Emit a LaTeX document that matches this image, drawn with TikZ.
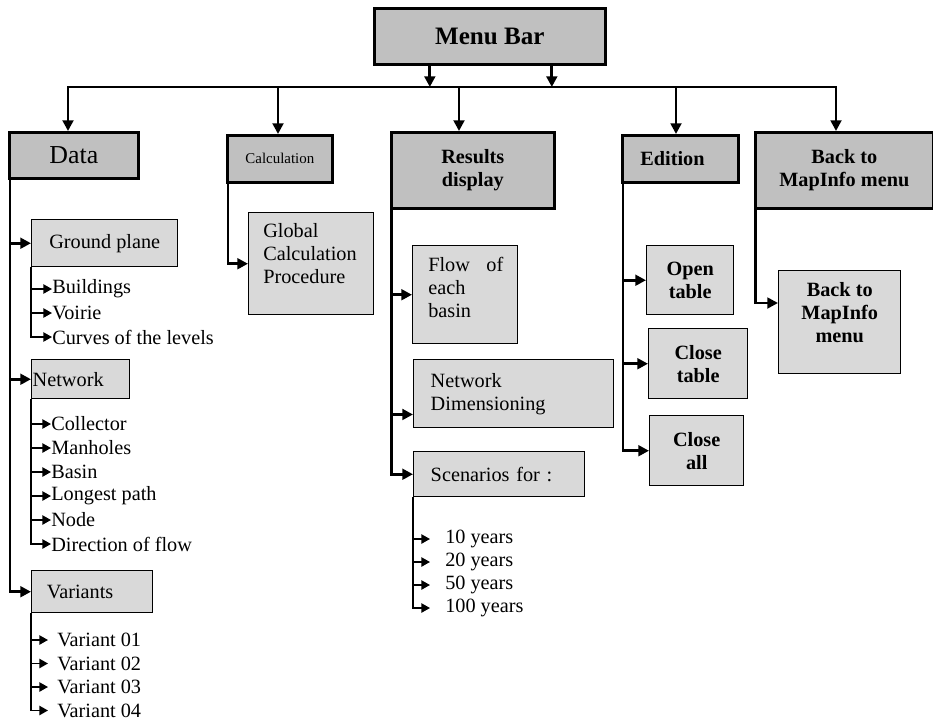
\documentclass[tikz,border=0pt]{standalone}
\usepackage{fontspec}
\setmainfont{Liberation Serif}
\usetikzlibrary{arrows.meta}
\definecolor{MenuGray}{HTML}{C0C0C0}
\definecolor{ItemGray}{HTML}{D9D9D9}
\newcommand\bodyfont{\fontsize{15.2pt}{17.3pt}\selectfont}

\begin{document}
\begin{tikzpicture}[x=.75pt,y=-.75pt,>={Triangle[width=8pt,length=8pt]},
  trunk/.style={line width=2.2pt},
  twig/.style={line width=1.1pt,>={Triangle[width=7pt,length=6.5pt]}},
  sz/.style 2 args={minimum width=#1*.75pt,minimum height=#2*.75pt},
  menubox/.style={draw,line width=2pt,fill=MenuGray,anchor=north west,inner sep=0pt},
  itembox/.style={draw,line width=1.1pt,fill=ItemGray,anchor=north west,inner sep=0pt},
  item/.style={anchor=west,inner sep=0pt,font=\bodyfont}]
  \useasboundingbox (0,0) rectangle (933,722);
  \node[menubox,sz={231}{56},font=\fontsize{18.8pt}{21pt}\selectfont\bfseries] (menu) at (373,7) {Menu Bar};
  \node[menubox,sz={129}{46},font=\fontsize{19.4pt}{22pt}\selectfont] (data) at (8,131) {Data};
  \node[menubox,sz={105}{47},font=\fontsize{11.2pt}{13pt}\selectfont] (calc) at (226,134) {Calculation};
  \node[menubox,sz={163}{76},font=\bodyfont\bfseries,align=center] (res) at (390,131) {Results\\display};
  \node[menubox,sz={116}{47},font=\bodyfont\bfseries,text width=60pt,align=left] (edit) at (621,134) {Edition};
  \node[menubox,sz={178}{76},font=\bodyfont\bfseries,align=center] (back) at (754,131) {Back to\\MapInfo menu};
  % menu bar to the five columns
  \coordinate (bus) at (0,87);
  \foreach \dx [count=\i] in {-60,62}{\coordinate (m\i) at ([shift={(\dx,0)}]menu.south);\draw[trunk,->] (m\i) -- (m\i |- bus);}
  \foreach \x/\n in {68/data,278/calc,459/res,676/edit,836/back}{\coordinate (d\n) at (\x,87);\draw[trunk,->] (d\n) -- (d\n |- \n.north);}
  \draw[trunk,line cap=rect] (ddata) -- (dback);
  % Data
  \node[itembox,sz={146}{47},font=\bodyfont] (gp) at (31,219) {Ground plane};
  \node[itembox,sz={98}{39},font=\bodyfont,text width=72pt,align=left] (net) at (31,359) {Network};
  \node[itembox,sz={121}{42},font=\bodyfont,text width=68pt,align=left] (var) at (31,570) {Variants};
  \coordinate (dl) at ([xshift=1.5pt]data.south west);
  \draw[trunk,->] (dl) |- (var.west);
  \foreach \n in {gp,net} \draw[trunk,->] (dl |- \n.west) -- (\n.west);
  \foreach \t [count=\i] in {Buildings,Voirie,Curves of the levels} \node[item] (gp\i) at (52,{289+24*(\i-1)}) {\t};
  \draw[twig,->] (gp.south west) |- (gp3.west);
  \foreach \i in {1,2} \draw[twig,->] (gp.south west |- gp\i.west) -- (gp\i.west);
  \foreach \t [count=\i] in {Collector,Manholes,Basin,Longest path,Node,Direction of flow} \node[item] (net\i) at (51,{424+24*(\i-1)}) {\t};
  \draw[twig,->] (net.south west) |- (net6.west);
  \foreach \i in {1,...,5} \draw[twig,->] (net.south west |- net\i.west) -- (net\i.west);
  \foreach \t [count=\i] in {Variant 01,Variant 02,Variant 03,Variant 04} \node[item,inner xsep=6.75pt] (var\i) at (48,{640+23.5*(\i-1)}) {\t};
  \draw[twig,->] (var.south west) |- (var4.west);
  \foreach \i in {1,2,3} \draw[twig,->] (var.south west |- var\i.west) -- (var\i.west);
  % Calculation
  \node[itembox,sz={125}{102}] (glob) at (248,212) {};
  \node[item,anchor=north west,align=left] (globtxt) at ([shift={(15,11)}]glob.north west) {Global\\Calculation\\Procedure};
  \coordinate (cl) at ([xshift=1.5pt]calc.south west);
  \draw[trunk,->] (cl) |- (glob.west);
  % Results display
  \node[itembox,sz={105}{98}] (flow) at (412,245) {};
  \node[item,anchor=north west,text width=56.25pt,align=left] (flowtxt) at ([shift={(16,12)}]flow.north west) {Flow\hfill of\\each\\basin};
  \node[itembox,sz={200}{68},font=\bodyfont,text width=124.5pt,align=left] (dim) at (413,359) {Network\\Dimensioning};
  \node[itembox,sz={171}{45},font=\bodyfont,text width=102.75pt,align=left] (scen) at (413,451) {Scenarios for :};
  \coordinate (rl) at ([xshift=1pt]res.south west);
  \coordinate (dimin) at ([yshift=10.5pt]dim.south west);
  \draw[trunk,->] (rl) |- (scen.west);
  \draw[trunk,->] (rl |- flow.west) -- (flow.west);
  \draw[trunk,->] (rl |- dimin) -- (dimin);
  \foreach \t [count=\i] in {10 years,20 years,50 years,100 years} \node[item,inner xsep=11.25pt] (yr\i) at (430,{539+23*(\i-1)}) {\t};
  \draw[twig,->] (scen.south west) |- (yr4.west);
  \foreach \i in {1,2,3} \draw[twig,->] (scen.south west |- yr\i.west) -- (yr\i.west);
  % Edition
  \node[itembox,sz={87}{69},font=\bodyfont\bfseries,align=center] (open) at (646,245) {Open\\table};
  \node[itembox,sz={99}{70},font=\bodyfont\bfseries,align=center] (closetab) at (648,328) {Close\\table};
  \node[itembox,sz={94}{70},font=\bodyfont\bfseries,align=center] (closeall) at (649,415) {Close\\all};
  \coordinate (el) at ([xshift=1.5pt]edit.south west);
  \draw[trunk,->] (el) |- (closeall.west);
  \foreach \n in {open,closetab} \draw[trunk,->] (el |- \n.west) -- (\n.west);
  % Back to MapInfo menu
  \node[itembox,sz={122}{103}] (mapinfo) at (778,270) {};
  \node[item,anchor=north,align=center,font=\bodyfont\bfseries] (mapinfotxt) at ([shift={(0,12)}]mapinfo.north) {Back to\\MapInfo\\menu};
  \coordinate (bl) at ([xshift=1pt]back.south west);
  \coordinate (mapin) at ([yshift=-24.75pt]mapinfo.north west);
  \draw[trunk,->] (bl) |- (mapin);
\end{tikzpicture}
\end{document}
